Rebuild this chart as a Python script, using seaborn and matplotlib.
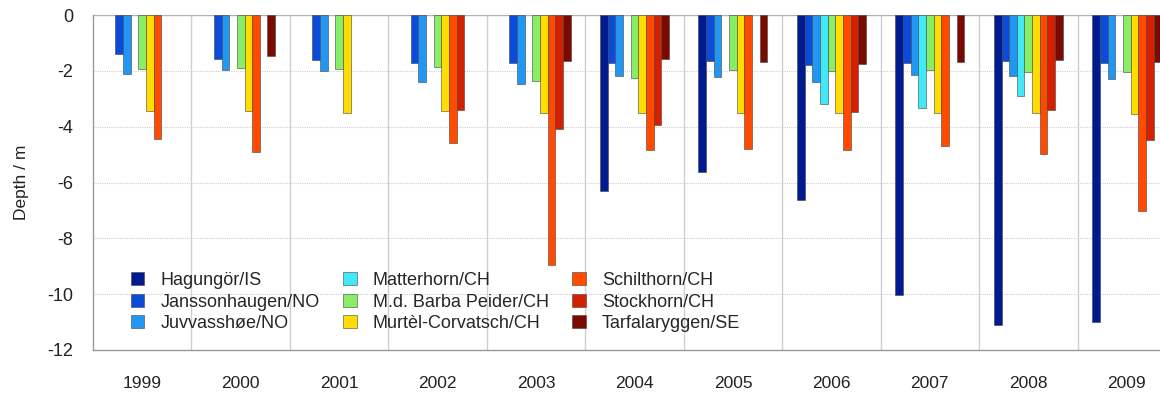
import numpy as np
import pandas as pd
import matplotlib
matplotlib.use("Agg")
import matplotlib.pyplot as plt
import seaborn as sns

years = ["1999", "2000", "2001", "2002", "2003", "2004", "2005", "2006", "2007", "2008", "2009"]
sites = ["Hagungör/IS", "Janssonhaugen/NO", "Juvvasshøe/NO", "Matterhorn/CH",
         "M.d. Barba Peider/CH", "Murtèl-Corvatsch/CH", "Schilthorn/CH",
         "Stockhorn/CH", "Tarfalaryggen/SE"]
nan = np.nan
hagungor      = [nan, nan, nan, nan, nan, -6.32, -5.63, -6.62, -10.02, -11.10, -11.00]
janssonhaugen = [-1.41, -1.59, -1.61, -1.71, -1.71, -1.73, -1.66, -1.80, -1.73, -1.66, -1.73]
juvvasshoe    = [-2.10, -1.97, -2.00, -2.41, -2.47, -2.18, -2.23, -2.41, -2.15, -2.18, -2.28]
matterhorn    = [nan, nan, nan, nan, nan, nan, nan, -3.20, -3.32, -2.91, nan]
barba_peider  = [-1.92, -1.91, -1.92, -1.86, -2.36, -2.27, -1.98, -1.99, -1.98, -2.05, -2.03]
murtel        = [-3.43, -3.45, -3.50, -3.45, -3.52, -3.52, -3.52, -3.52, -3.52, -3.52, -3.55]
schilthorn    = [-4.44, -4.90, nan, -4.60, -8.94, -4.82, -4.81, -4.85, -4.68, -4.99, -7.01]
stockhorn     = [nan, nan, nan, -3.40, -4.08, -3.94, nan, -3.48, nan, -3.42, -4.46]
tarfala       = [nan, -1.46, nan, nan, -1.65, -1.56, -1.69, -1.76, -1.69, -1.60, -1.67]
y_ticks = [0, -2, -4, -6, -8, -10, -12]

colors = ["#001a8f", "#0a4bd9", "#2196f3", "#40e8f8", "#88ee66",
          "#ffdd00", "#ff4a00", "#d42000", "#7a0a00"]

series = [hagungor, janssonhaugen, juvvasshoe, matterhorn, barba_peider,
          murtel, schilthorn, stockhorn, tarfala]
rows = []
for site, vals in zip(sites, series):
    for yr, v in zip(years, vals):
        rows.append({"Year": yr, "Site": site, "Depth": v})
df = pd.DataFrame(rows)

sns.set_theme(style="white")
plt.rcParams["font.family"] = ["Liberation Sans", "DejaVu Sans"]

fig = plt.figure(figsize=(11.6, 3.94), dpi=100)
ax = fig.add_axes([93/1160, 1-350/394, 1083/1160, 335/394])

sns.barplot(data=df, x="Year", y="Depth", hue="Site", order=years,
            hue_order=sites, palette=colors, width=0.7, gap=0,
            dodge=True, errorbar=None, ax=ax,
            edgecolor="#444444", linewidth=0.4, saturation=1)

ax.set_ylim(-12, 0)
ax.set_xlim(-0.5, len(years) - 0.5)
ax.set_yticks(y_ticks)
ax.set_yticklabels([str(t) for t in y_ticks])
ax.set_xlabel("")
ax.set_ylabel("Depth / m", fontsize=12.5, labelpad=13, color="#222222")

for t in y_ticks[1:-1]:
    ax.axhline(t, color="#d0d0d0", lw=0.8, ls=(0, (1, 1)), zorder=0)
ax.axhline(0, color="#b0b0b0", lw=1.0, zorder=0.5)
for i in range(len(years) - 1):
    ax.axvline(i + 0.5, color="#cfcfcf", lw=1.0, zorder=0)

for s in ["top", "right"]:
    ax.spines[s].set_visible(False)
for s in ["left", "bottom"]:
    ax.spines[s].set_color("#999999")
    ax.spines[s].set_linewidth(1.0)

ax.tick_params(axis="x", length=0, pad=18.5, labelsize=12.5, colors="#222222")
ax.tick_params(axis="y", length=0, pad=14, labelsize=13, colors="#222222")

handles, labels = ax.get_legend_handles_labels()
ax.legend(handles, labels, ncol=3, loc="center left",
          bbox_to_anchor=(0.028, 0.143), frameon=False, fontsize=13,
          handlelength=0.75, handleheight=0.75, handletextpad=0.9,
          columnspacing=1.3, labelspacing=0.25, borderaxespad=0)

fig.savefig("out.png", dpi=100)
